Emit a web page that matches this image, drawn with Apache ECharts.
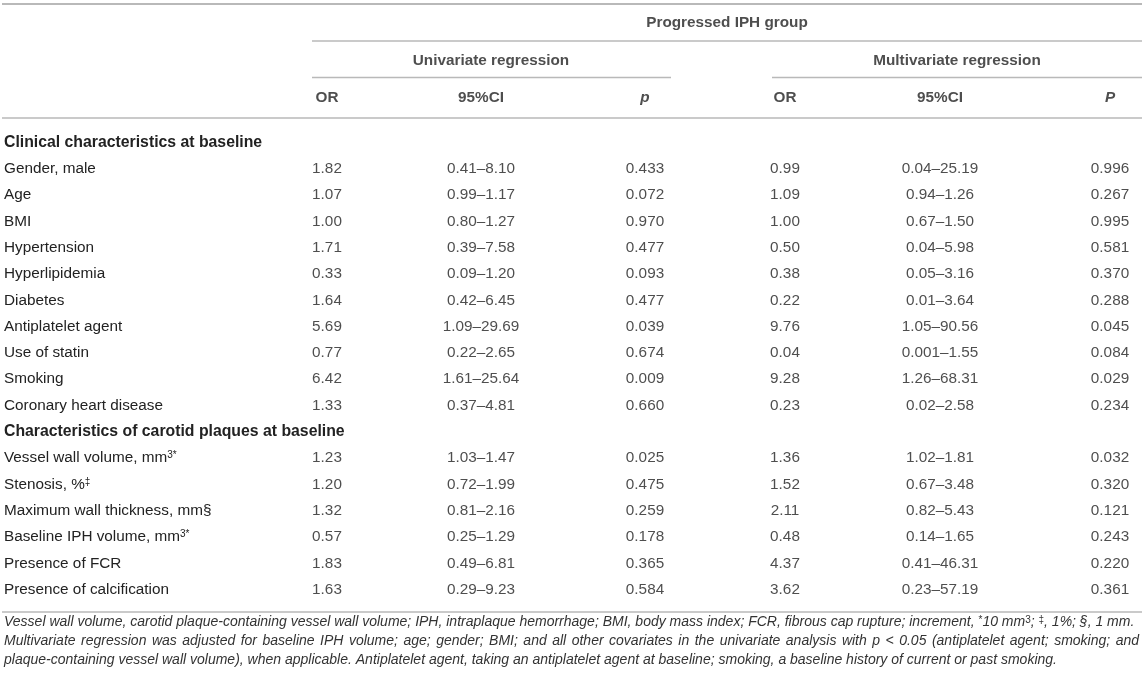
<!DOCTYPE html>
<html>
<head>
<meta charset="utf-8">
<script src="https://cdn.jsdelivr.net/npm/echarts@6/dist/echarts.min.js"></script>
<style>
html,body{margin:0;padding:0;background:#fff;}
#chart{width:1146px;height:683px;}
</style>
</head>
<body>
<div id="chart"></div>
<script>
// ---------- data ----------
const groupTitle = ['Progressed IPH group'];
const modelTitles = ['Univariate regression', 'Multivariate regression'];
const columnHeaders = ['OR', '95%CI', '{pi|p}', 'OR', '95%CI', '{pi|P}'];
const sectionRows = ['Clinical characteristics at baseline', 'Characteristics of carotid plaques at baseline'];
const rowLabels = [
  'Clinical characteristics at baseline',
  'Gender, male', 'Age', 'BMI', 'Hypertension', 'Hyperlipidemia', 'Diabetes',
  'Antiplatelet agent', 'Use of statin', 'Smoking', 'Coronary heart disease',
  'Characteristics of carotid plaques at baseline',
  'Vessel wall volume, mm{sup|3*}', 'Stenosis, %{sup|‡}', 'Maximum wall thickness, mm§',
  'Baseline IPH volume, mm{sup|3*}', 'Presence of FCR', 'Presence of calcification'
];
const uniOR = ['', '1.82', '1.07', '1.00', '1.71', '0.33', '1.64', '5.69', '0.77', '6.42', '1.33',
  '', '1.23', '1.20', '1.32', '0.57', '1.83', '1.63'];
const uniCI = ['', '0.41–8.10', '0.99–1.17', '0.80–1.27', '0.39–7.58', '0.09–1.20', '0.42–6.45', '1.09–29.69', '0.22–2.65', '1.61–25.64', '0.37–4.81',
  '', '1.03–1.47', '0.72–1.99', '0.81–2.16', '0.25–1.29', '0.49–6.81', '0.29–9.23'];
const uniP = ['', '0.433', '0.072', '0.970', '0.477', '0.093', '0.477', '0.039', '0.674', '0.009', '0.660',
  '', '0.025', '0.475', '0.259', '0.178', '0.365', '0.584'];
const multiOR = ['', '0.99', '1.09', '1.00', '0.50', '0.38', '0.22', '9.76', '0.04', '9.28', '0.23',
  '', '1.36', '1.52', '2.11', '0.48', '4.37', '3.62'];
const multiCI = ['', '0.04–25.19', '0.94–1.26', '0.67–1.50', '0.04–5.98', '0.05–3.16', '0.01–3.64', '1.05–90.56', '0.001–1.55', '1.26–68.31', '0.02–2.58',
  '', '1.02–1.81', '0.67–3.48', '0.82–5.43', '0.14–1.65', '0.41–46.31', '0.23–57.19'];
const multiP = ['', '0.996', '0.267', '0.995', '0.581', '0.370', '0.288', '0.045', '0.084', '0.029', '0.234',
  '', '0.032', '0.320', '0.121', '0.243', '0.220', '0.361'];
const footnotes = [
  'Vessel wall volume, carotid plaque-containing vessel wall volume; IPH, intraplaque hemorrhage; BMI, body mass index; FCR, fibrous cap rupture; increment, {s|*}10 mm{s|3}; {s|‡}, 1%; §, 1 mm.',
  'Multivariate regression was adjusted for baseline IPH volume; age; gender; BMI; and all other covariates in the univariate analysis with p < 0.05 (antiplatelet agent; smoking; and',
  'plaque-containing vessel wall volume), when applicable. Antiplatelet agent, taking an antiplatelet agent at baseline; smoking, a baseline history of current or past smoking.'
];
const justifiedFootnote = [false, true, false];

// ---------- layout ----------
const W = 1146, H = 683;
const FONT = '"Liberation Sans", Arial, Helvetica, sans-serif';
const TXT = '#222222';
const FN_TXT = '#333333';
const RULE = '#b9b9b9';
const colX = [327, 481, 645, 785, 940, 1110];
const groupX = [727];
const modelX = [491, 957];
const headerRows = ['h1', 'h2', 'h3'];
const rowH = 26.3;
const bodyTop = 142.5 - rowH / 2;
const FS = 15.3;
const FS_SECTION = 15.8;
const FN_FS = 14;
const FN_LEFT = 4, FN_RIGHT = 1139;

const bodyCols = [uniOR, uniCI, uniP, multiOR, multiCI, multiP];

function textSeries(name, xAxisIndex, yAxisIndex, data, bold) {
  return {
    type: 'scatter', name, xAxisIndex, yAxisIndex, silent: true,
    symbolSize: 0, data,
    label: {
      show: true, position: 'inside', align: 'center', verticalAlign: 'middle',
      formatter: p => p.value[2],
      color: TXT, fontSize: FS, fontFamily: FONT, fontWeight: bold ? 'bold' : 'normal',
      rich: { pi: { fontStyle: 'italic', fontWeight: 'bold', fontSize: FS, fontFamily: FONT, color: TXT } }
    }
  };
}

const series = [];
bodyCols.forEach((col, ci) => {
  const data = [];
  col.forEach((v, ri) => { if (v) data.push([colX[ci], rowLabels[ri], v]); });
  series.push(textSeries('col' + ci, 0, 0, data, false));
});
const headerData = [];
groupTitle.forEach((t, i) => headerData.push([groupX[i], 'h1', t]));
modelTitles.forEach((t, i) => headerData.push([modelX[i], 'h2', t]));
columnHeaders.forEach((t, i) => headerData.push([colX[i], 'h3', t]));
series.push(textSeries('header', 1, 1, headerData, true));

function hline(x1, x2, y, w) {
  return { type: 'line', silent: true, shape: { x1, y1: y, x2, y2: y }, style: { stroke: RULE, lineWidth: w || 1.5 } };
}
const graphics = [
  hline(2, 1142, 4, 2),
  hline(312, 1142, 41),
  hline(312, 671, 77.5),
  hline(772, 1142, 77.5),
  hline(2, 1142, 118),
  hline(2, 1142, 612)
];

// measure for justification of the wrapped footnote line
const mctx = document.createElement('canvas').getContext('2d');
mctx.font = 'italic ' + FN_FS + 'px ' + FONT;
const fnY = [622, 641, 660];
footnotes.forEach((t, i) => {
  let text = t;
  let gapPad = 0;
  if (justifiedFootnote[i]) {
    const natural = mctx.measureText(t).width;
    const gaps = (t.match(/ /g) || []).length;
    gapPad = Math.max(0, (FN_RIGHT - FN_LEFT - natural) / gaps);
    text = t.split(' ').join('{g| }');
  }
  graphics.push({
    type: 'text', silent: true, x: FN_LEFT, y: fnY[i],
    style: {
      text, fill: FN_TXT, fontStyle: 'italic', fontSize: FN_FS, fontFamily: FONT,
      verticalAlign: 'middle',
      rich: {
        s: { fontSize: 10, fontStyle: 'normal', fontFamily: FONT, fill: FN_TXT, verticalAlign: 'top', lineHeight: 9, padding: [0, 0, 6, 0] },
        g: { fontSize: FN_FS, fontStyle: 'italic', fontFamily: FONT, fill: FN_TXT, padding: [0, gapPad, 0, 0] }
      }
    }
  });
});

const chart = echarts.init(document.getElementById('chart'), null, { renderer: 'canvas' });
chart.setOption({
  animation: false,
  backgroundColor: '#fff',
  grid: [
    { left: 0, right: 0, top: bodyTop, height: rowH * rowLabels.length, containLabel: false },
    { left: 0, right: 0, top: 4.35, height: 111.9, containLabel: false }
  ],
  xAxis: [
    { type: 'value', gridIndex: 0, min: 0, max: W, show: false },
    { type: 'value', gridIndex: 1, min: 0, max: W, show: false }
  ],
  yAxis: [
    {
      type: 'category', gridIndex: 0, data: rowLabels, inverse: true,
      axisLine: { show: false }, axisTick: { show: false }, splitLine: { show: false },
      axisLabel: {
        inside: true, margin: 4, interval: 0, align: 'left',
        color: TXT, fontSize: FS, fontFamily: FONT,
        formatter: v => sectionRows.indexOf(v) >= 0 ? '{b|' + v + '}' : v,
        rich: {
          b: { fontWeight: 'bold', fontSize: FS_SECTION, fontFamily: FONT, color: TXT },
          sup: { fontSize: 10, fontFamily: FONT, color: TXT, verticalAlign: 'top', lineHeight: 10, padding: [0, 0, 6, 0] }
        }
      }
    },
    { type: 'category', gridIndex: 1, data: headerRows, inverse: true, show: false }
  ],
  series,
  graphic: graphics
});
</script>
</body>
</html>
